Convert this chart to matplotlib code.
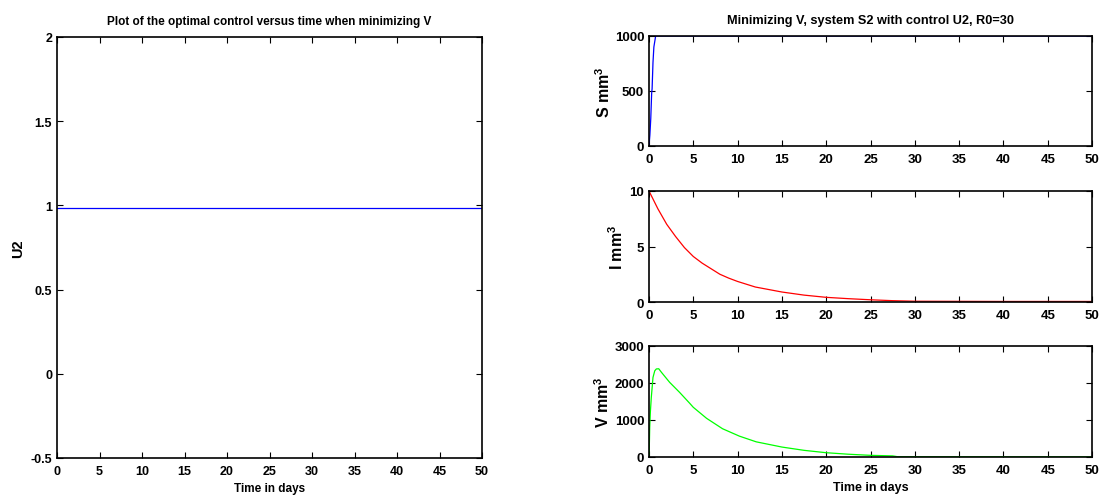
import numpy as np
import matplotlib
matplotlib.use("Agg")
import matplotlib.pyplot as plt

plt.rcParams['font.family'] = ['Liberation Sans', 'DejaVu Sans']
plt.rcParams['font.weight'] = 'bold'
plt.rcParams['mathtext.fontset'] = 'custom'
plt.rcParams['mathtext.rm'] = 'Liberation Sans:bold'
plt.rcParams['mathtext.bf'] = 'Liberation Sans:bold'
plt.rcParams['mathtext.default'] = 'rm'

# values
t_u = [0, 50]
u2 = [0.985, 0.985]

t_s = [0, 0.1, 0.2, 0.3, 0.35, 0.45, 0.55, 0.75, 1, 50]
s_vals = [0, 100, 250, 480, 520, 760, 900, 1000, 1000, 1000]

t_i = [0, 1, 2, 3, 4, 5, 6, 7, 8, 9, 10, 12, 15, 17.5, 20, 22.5, 25, 27.5, 30, 40, 50]
i_vals = [10, 8.4, 7.0, 5.9, 4.9, 4.1, 3.5, 3.0, 2.5, 2.15, 1.85, 1.35, 0.9, 0.62,
          0.42, 0.3, 0.2, 0.12, 0.07, 0.05, 0.05]

t_v = [0, 0.02, 0.08, 0.15, 0.26, 0.45, 0.65, 0.83, 1.1, 1.4, 2.33, 3.46, 4.6, 5,
       6.5, 8.3, 10.2, 12.1, 15, 17.5, 20, 22.5, 25, 27.5, 28, 35, 50]
v_vals = [0, 100, 790, 1200, 1610, 2150, 2330, 2380, 2385, 2290, 2018, 1745, 1450, 1343,
          1045, 764, 564, 410, 269, 180, 116, 75, 45, 30, 10, 8, 5]

xticks = list(range(0, 51, 5))

W, H = 1116, 502
fig = plt.figure(figsize=(W / 100, H / 100), dpi=100)


def box(left, top, right, bottom):
    return [left / W, 1 - bottom / H, (right - left) / W, (bottom - top) / H]


def style(ax, yticks, ylabels, fs):
    ax.set_xlim(0, 50)
    ax.set_xticks(xticks)
    ax.set_yticks(yticks)
    ax.set_yticklabels(ylabels)
    ax.tick_params(direction='in', top=True, right=True, length=4, width=0.8,
                   labelsize=fs)
    ax.tick_params(axis='x', pad=5)
    ax.tick_params(axis='y', pad=3.5)
    for sp in ax.spines.values():
        sp.set_linewidth(1.2)


# left panel
ax0 = fig.add_axes(box(57, 38, 482, 459))
ax0.plot(t_u, u2, color='blue', lw=0.9)
ax0.set_ylim(-0.5, 2)
style(ax0, [-0.5, 0, 0.5, 1, 1.5, 2], ['-0.5', '0', '0.5', '1', '1.5', '2'], 9)
ax0.set_title('Plot of the optimal control versus time when minimizing V',
              fontsize=8.5, fontweight='bold', pad=9)
ax0.set_xlabel('Time in days', fontsize=8.5, fontweight='bold', labelpad=4)
ax0.set_ylabel('U2', fontsize=10.5, fontweight='bold', labelpad=4)

# right panels
ax1 = fig.add_axes(box(649, 37, 1092, 147))
ax1.plot(t_s, s_vals, color='blue', lw=0.9)
ax1.set_ylim(0, 1000)
style(ax1, [0, 500, 1000], ['0', '500', '1000'], 9.5)
ax1.set_title('Minimizing V, system S2 with control U2, R0=30',
              fontsize=9.2, fontweight='bold', pad=9)
ax1.set_ylabel('S mm$^3$', fontsize=11.5, fontweight='bold', labelpad=1.5)

ax2 = fig.add_axes(box(649, 192, 1092, 303))
ax2.plot(t_i, i_vals, color='red', lw=0.9)
ax2.set_ylim(0, 10)
style(ax2, [0, 5, 10], ['0', '5', '10'], 9.5)
ax2.set_ylabel('I mm$^3$', fontsize=11.5, fontweight='bold', labelpad=2.5)

ax3 = fig.add_axes(box(649, 347, 1092, 458))
ax3.plot(t_v, v_vals, color=(0, 1, 0), lw=0.9)
ax3.set_ylim(0, 3000)
style(ax3, [0, 1000, 2000, 3000], ['0', '1000', '2000', '3000'], 9.5)
ax3.set_xlabel('Time in days', fontsize=9, fontweight='bold', labelpad=4)
ax3.set_ylabel('V mm$^3$', fontsize=11.5, fontweight='bold', labelpad=1.5)

fig.savefig('out.png', dpi=100)
